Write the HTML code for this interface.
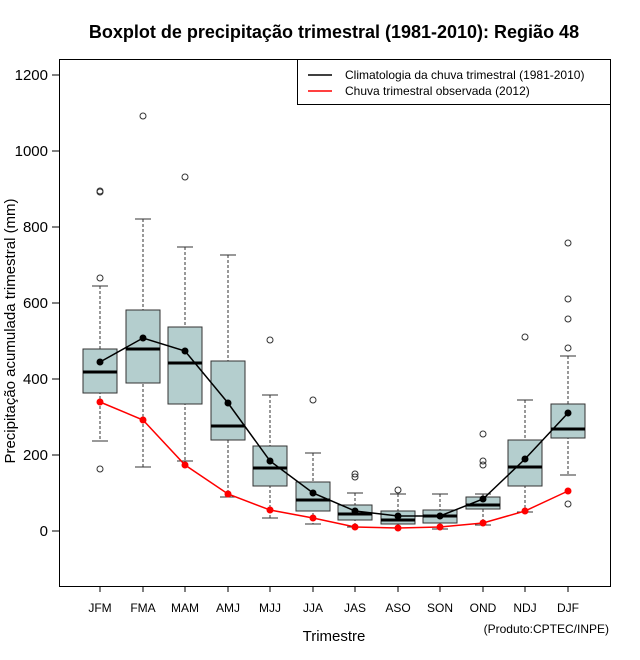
<!DOCTYPE html>
<html><head><style>body{margin:0;background:#fff}svg{display:block}</style></head><body>
<svg width="640" height="660" xmlns="http://www.w3.org/2000/svg" font-family="Liberation Sans, sans-serif">
<text x="334" y="38" text-anchor="middle" font-size="18" font-weight="bold">Boxplot de precipitação trimestral (1981-2010): Região 48</text>
<rect x="59.5" y="59.5" width="551" height="527" fill="none" stroke="#000" stroke-width="1"/>
<g stroke="#000" stroke-width="1">
<line x1="52" y1="531" x2="59" y2="531"/><line x1="52" y1="455" x2="59" y2="455"/><line x1="52" y1="379" x2="59" y2="379"/><line x1="52" y1="303" x2="59" y2="303"/><line x1="52" y1="227" x2="59" y2="227"/><line x1="52" y1="151" x2="59" y2="151"/><line x1="52" y1="75" x2="59" y2="75"/>
</g>
<g font-size="15" text-anchor="end">
<text x="48" y="536">0</text><text x="48" y="460">200</text><text x="48" y="384">400</text><text x="48" y="308">600</text><text x="48" y="232">800</text><text x="48" y="156">1000</text><text x="48" y="80">1200</text>
</g>
<text transform="translate(15,331) rotate(-90)" text-anchor="middle" font-size="15">Precipitação acumulada trimestral (mm)</text>
<g stroke="#000"><line x1="100" y1="586" x2="100" y2="592"/><line x1="143" y1="586" x2="143" y2="592"/><line x1="185" y1="586" x2="185" y2="592"/><line x1="228" y1="586" x2="228" y2="592"/><line x1="270" y1="586" x2="270" y2="592"/><line x1="313" y1="586" x2="313" y2="592"/><line x1="355" y1="586" x2="355" y2="592"/><line x1="398" y1="586" x2="398" y2="592"/><line x1="440" y1="586" x2="440" y2="592"/><line x1="483" y1="586" x2="483" y2="592"/><line x1="525" y1="586" x2="525" y2="592"/><line x1="568" y1="586" x2="568" y2="592"/></g>
<g font-size="12" text-anchor="middle">
<text x="100" y="612">JFM</text><text x="143" y="612">FMA</text><text x="185" y="612">MAM</text><text x="228" y="612">AMJ</text><text x="270" y="612">MJJ</text><text x="313" y="612">JJA</text><text x="355" y="612">JAS</text><text x="398" y="612">ASO</text><text x="440" y="612">SON</text><text x="483" y="612">OND</text><text x="525" y="612">NDJ</text><text x="568" y="612">DJF</text>
</g>
<text x="334" y="641" text-anchor="middle" font-size="15">Trimestre</text>
<text x="609" y="633" text-anchor="end" font-size="12">(Produto:CPTEC/INPE)</text>
<g stroke="#333" stroke-width="1">
<g stroke-dasharray="3,2"><line x1="100" y1="286" x2="100" y2="441"/><line x1="143" y1="219" x2="143" y2="467"/><line x1="185" y1="247" x2="185" y2="461"/><line x1="228" y1="255" x2="228" y2="497"/><line x1="270" y1="395" x2="270" y2="518"/><line x1="313" y1="453" x2="313" y2="524"/><line x1="355" y1="493" x2="355" y2="527"/><line x1="398" y1="494" x2="398" y2="528"/><line x1="440" y1="494" x2="440" y2="529"/><line x1="483" y1="494" x2="483" y2="525"/><line x1="525" y1="400" x2="525" y2="512"/><line x1="568" y1="356" x2="568" y2="475"/></g>
<g>
<line x1="92" y1="286" x2="108" y2="286"/><line x1="92" y1="441" x2="108" y2="441"/>
<line x1="135" y1="219" x2="151" y2="219"/><line x1="135" y1="467" x2="151" y2="467"/>
<line x1="177" y1="247" x2="193" y2="247"/><line x1="177" y1="461" x2="193" y2="461"/>
<line x1="220" y1="255" x2="236" y2="255"/><line x1="220" y1="497" x2="236" y2="497"/>
<line x1="262" y1="395" x2="278" y2="395"/><line x1="262" y1="518" x2="278" y2="518"/>
<line x1="305" y1="453" x2="321" y2="453"/><line x1="305" y1="524" x2="321" y2="524"/>
<line x1="347" y1="493" x2="363" y2="493"/><line x1="347" y1="527" x2="363" y2="527"/>
<line x1="390" y1="494" x2="406" y2="494"/><line x1="390" y1="528" x2="406" y2="528"/>
<line x1="432" y1="494" x2="448" y2="494"/><line x1="432" y1="529" x2="448" y2="529"/>
<line x1="475" y1="494" x2="491" y2="494"/><line x1="475" y1="525" x2="491" y2="525"/>
<line x1="517" y1="400" x2="533" y2="400"/><line x1="517" y1="512" x2="533" y2="512"/>
<line x1="560" y1="356" x2="576" y2="356"/><line x1="560" y1="475" x2="576" y2="475"/>
</g>
<g fill="#b4cece">
<rect x="83" y="349" width="34" height="44"/><rect x="126" y="310" width="34" height="73"/><rect x="168" y="327" width="34" height="77"/><rect x="211" y="361" width="34" height="79"/><rect x="253" y="446" width="34" height="40"/><rect x="296" y="482" width="34" height="29"/><rect x="338" y="505" width="34" height="15"/><rect x="381" y="511" width="34" height="13"/><rect x="423" y="510" width="34" height="13"/><rect x="466" y="497" width="34" height="12"/><rect x="508" y="440" width="34" height="46"/><rect x="551" y="404" width="34" height="34"/>
</g>
<g stroke="#000" stroke-width="3">
<line x1="83" y1="372" x2="117" y2="372"/><line x1="126" y1="349" x2="160" y2="349"/><line x1="168" y1="363" x2="202" y2="363"/><line x1="211" y1="426" x2="245" y2="426"/><line x1="253" y1="468" x2="287" y2="468"/><line x1="296" y1="500" x2="330" y2="500"/><line x1="338" y1="514" x2="372" y2="514"/><line x1="381" y1="520" x2="415" y2="520"/><line x1="423" y1="516" x2="457" y2="516"/><line x1="466" y1="505" x2="500" y2="505"/><line x1="508" y1="467" x2="542" y2="467"/><line x1="551" y1="429" x2="585" y2="429"/>
</g>
<g fill="none" stroke="#333">
<circle cx="100" cy="278" r="3"/><circle cx="100" cy="192" r="3"/><circle cx="100" cy="191" r="3"/><circle cx="100" cy="469" r="3"/><circle cx="143" cy="116" r="3"/><circle cx="185" cy="177" r="3"/><circle cx="270" cy="340" r="3"/><circle cx="313" cy="400" r="3"/><circle cx="355" cy="474" r="3"/><circle cx="355" cy="477" r="3"/><circle cx="398" cy="490" r="3"/><circle cx="483" cy="434" r="3"/><circle cx="483" cy="461" r="3"/><circle cx="483" cy="465" r="3"/><circle cx="525" cy="337" r="3"/><circle cx="568" cy="243" r="3"/><circle cx="568" cy="299" r="3"/><circle cx="568" cy="319" r="3"/><circle cx="568" cy="348" r="3"/><circle cx="568" cy="504" r="3"/>
</g>
</g>
<polyline fill="none" stroke="#000" stroke-width="1.5" points="100,362 143,338 185,351 228,403 270,461 313,493 355,511 398,516 440,516 483,499 525,459 568,413"/>
<g fill="#000"><circle cx="100" cy="362" r="3.5"/><circle cx="143" cy="338" r="3.5"/><circle cx="185" cy="351" r="3.5"/><circle cx="228" cy="403" r="3.5"/><circle cx="270" cy="461" r="3.5"/><circle cx="313" cy="493" r="3.5"/><circle cx="355" cy="511" r="3.5"/><circle cx="398" cy="516" r="3.5"/><circle cx="440" cy="516" r="3.5"/><circle cx="483" cy="499" r="3.5"/><circle cx="525" cy="459" r="3.5"/><circle cx="568" cy="413" r="3.5"/></g>
<polyline fill="none" stroke="#f00" stroke-width="1.5" points="100,402 143,420 185,465 228,494 270,510 313,518 355,527 398,528 440,527 483,523 525,511 568,491"/>
<g fill="#f00"><circle cx="100" cy="402" r="3.5"/><circle cx="143" cy="420" r="3.5"/><circle cx="185" cy="465" r="3.5"/><circle cx="228" cy="494" r="3.5"/><circle cx="270" cy="510" r="3.5"/><circle cx="313" cy="518" r="3.5"/><circle cx="355" cy="527" r="3.5"/><circle cx="398" cy="528" r="3.5"/><circle cx="440" cy="527" r="3.5"/><circle cx="483" cy="523" r="3.5"/><circle cx="525" cy="511" r="3.5"/><circle cx="568" cy="491" r="3.5"/></g>
<rect x="297.5" y="59.5" width="313" height="45" fill="#fff" stroke="#000"/>
<line x1="308" y1="75" x2="332" y2="75" stroke="#000" stroke-width="1.5"/>
<line x1="308" y1="91" x2="332" y2="91" stroke="#f00" stroke-width="1.5"/>
<text x="345" y="79" font-size="12">Climatologia da chuva trimestral (1981-2010)</text>
<text x="345" y="95" font-size="12">Chuva trimestral observada (2012)</text>
</svg>
</body></html>
